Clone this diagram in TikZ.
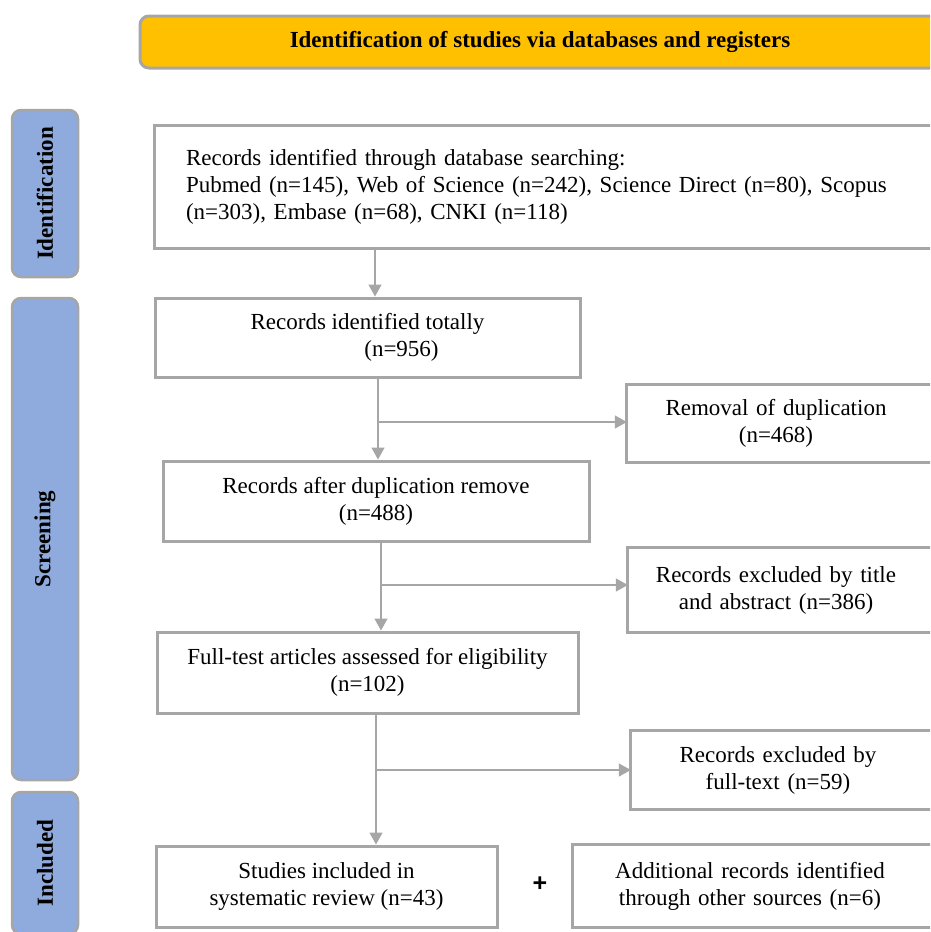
\documentclass[tikz,border=0pt]{standalone}
\usepackage{fontspec}
\setmainfont{Liberation Serif}
\setsansfont{Liberation Sans}
\usepackage{tikz}
\usetikzlibrary{arrows.meta}

\definecolor{linegray}{HTML}{A6A6A6}
\definecolor{bannerfill}{HTML}{FFC000}
\definecolor{phasefill}{HTML}{8FAADC}

\begin{document}
\begin{tikzpicture}[x=1pt,y=-1pt,
		boxline/.style={draw=linegray,line width=3pt},
		flowbox/.style={boxline,fill=white,align=center,inner sep=0pt,font=\fontsize{23}{27}\selectfont},
		opentext/.style={align=center,inner sep=0pt,font=\fontsize{23}{27}\selectfont},
		phasebox/.style={draw=linegray,line width=2.5pt,fill=phasefill,rounded corners=9pt,rotate=90,inner sep=0pt,minimum height=66pt,font=\bfseries\fontsize{23}{27}\selectfont},
		arr/.style={draw=linegray,line width=1.5pt,-{Triangle[length=12pt,width=13pt]}}]

		\useasboundingbox (0,0) rectangle (930,932);
		\clip (0,0) rectangle (930,932);

		% banner and phases
		\node[draw=linegray,line width=3pt,fill=bannerfill,rounded corners=9pt,minimum width=800pt,minimum height=52pt,inner sep=0pt,font=\bfseries\fontsize{23}{27}\selectfont] (head) at (540,42) {Identification of studies via databases and registers};
		\node[phasebox,minimum width=167pt] (ident) at (45,193.5) {Identification};
		\node[phasebox,minimum width=482pt] (screen) at (45,539) {Screening};
		\node[phasebox,minimum width=142pt] (incl) at (45,863) {Included};

		% main column
		\node[flowbox,align=left,text width=732pt,inner xsep=32pt,minimum height=123pt] (search) at (552,186.5) {Records identified through database searching:\\Pubmed (n=145), Web of Science (n=242), Science Direct (n=80), Scopus\\(n=303), Embase (n=68), CNKI (n=118)};
		\node[flowbox,minimum width=425pt,minimum height=79pt] (total) at (367.5,337.5) {Records identified totally\\\hspace*{68pt}(n=956)};
		\node[flowbox,minimum width=426pt,minimum height=80pt] (dedup) at (376,501) {Records after duplication remove\\(n=488)};
		\node[flowbox,minimum width=421pt,minimum height=81pt] (elig) at (367.5,672.5) {Full-test articles assessed for eligibility\\(n=102)};
		\node[flowbox,minimum width=341pt,minimum height=81pt] (study) at (326.5,886.5) {Studies included in\\systematic review (n=43)};

		% right column
		\node[opentext,text width=298pt,minimum height=77pt] (dup) at (776,423.5) {Removal of duplication\\(n=468)};
		\node[opentext,text width=296pt,minimum height=84pt] (excl) at (776,590) {Records excluded by title\\and abstract (n=386)};
		\node[opentext,text width=294pt,minimum height=78pt] (ftext) at (778,770) {Records excluded by\\full-text (n=59)};
		\node[opentext,text width=354pt,minimum height=82pt] (other) at (750,886) {Additional records identified\\through other sources (n=6)};
		\draw[boxline] (dup.south west) rectangle ([xshift=60pt]dup.north east);
		\draw[boxline] (excl.south west) rectangle ([xshift=60pt]excl.north east);
		\draw[boxline] (ftext.south west) rectangle ([xshift=60pt]ftext.north east);
		\draw[boxline] (other.south west) rectangle ([xshift=60pt]other.north east);

		\node[font=\sffamily\bfseries\fontsize{25}{28}\selectfont] (plus) at (540,884) {+};

		% connectors
		\coordinate (a0) at (375,270);
		\coordinate (j1) at (378,422);
		\coordinate (j2) at (381,585);
		\coordinate (j3) at (376,770);

		\draw[arr] (search.south -| a0) -- (total.north -| a0);
		\draw[arr] (total.south -| j1) -- (dedup.north -| j1);
		\draw[arr] (j1) -- (dup.west |- j1);
		\draw[arr] (dedup.south -| j2) -- (elig.north -| j2);
		\draw[arr] (j2) -- (excl.west |- j2);
		\draw[arr] (elig.south -| j3) -- (study.north -| j3);
		\draw[arr] (j3) -- (ftext.west |- j3);
	\end{tikzpicture}
\end{document}
